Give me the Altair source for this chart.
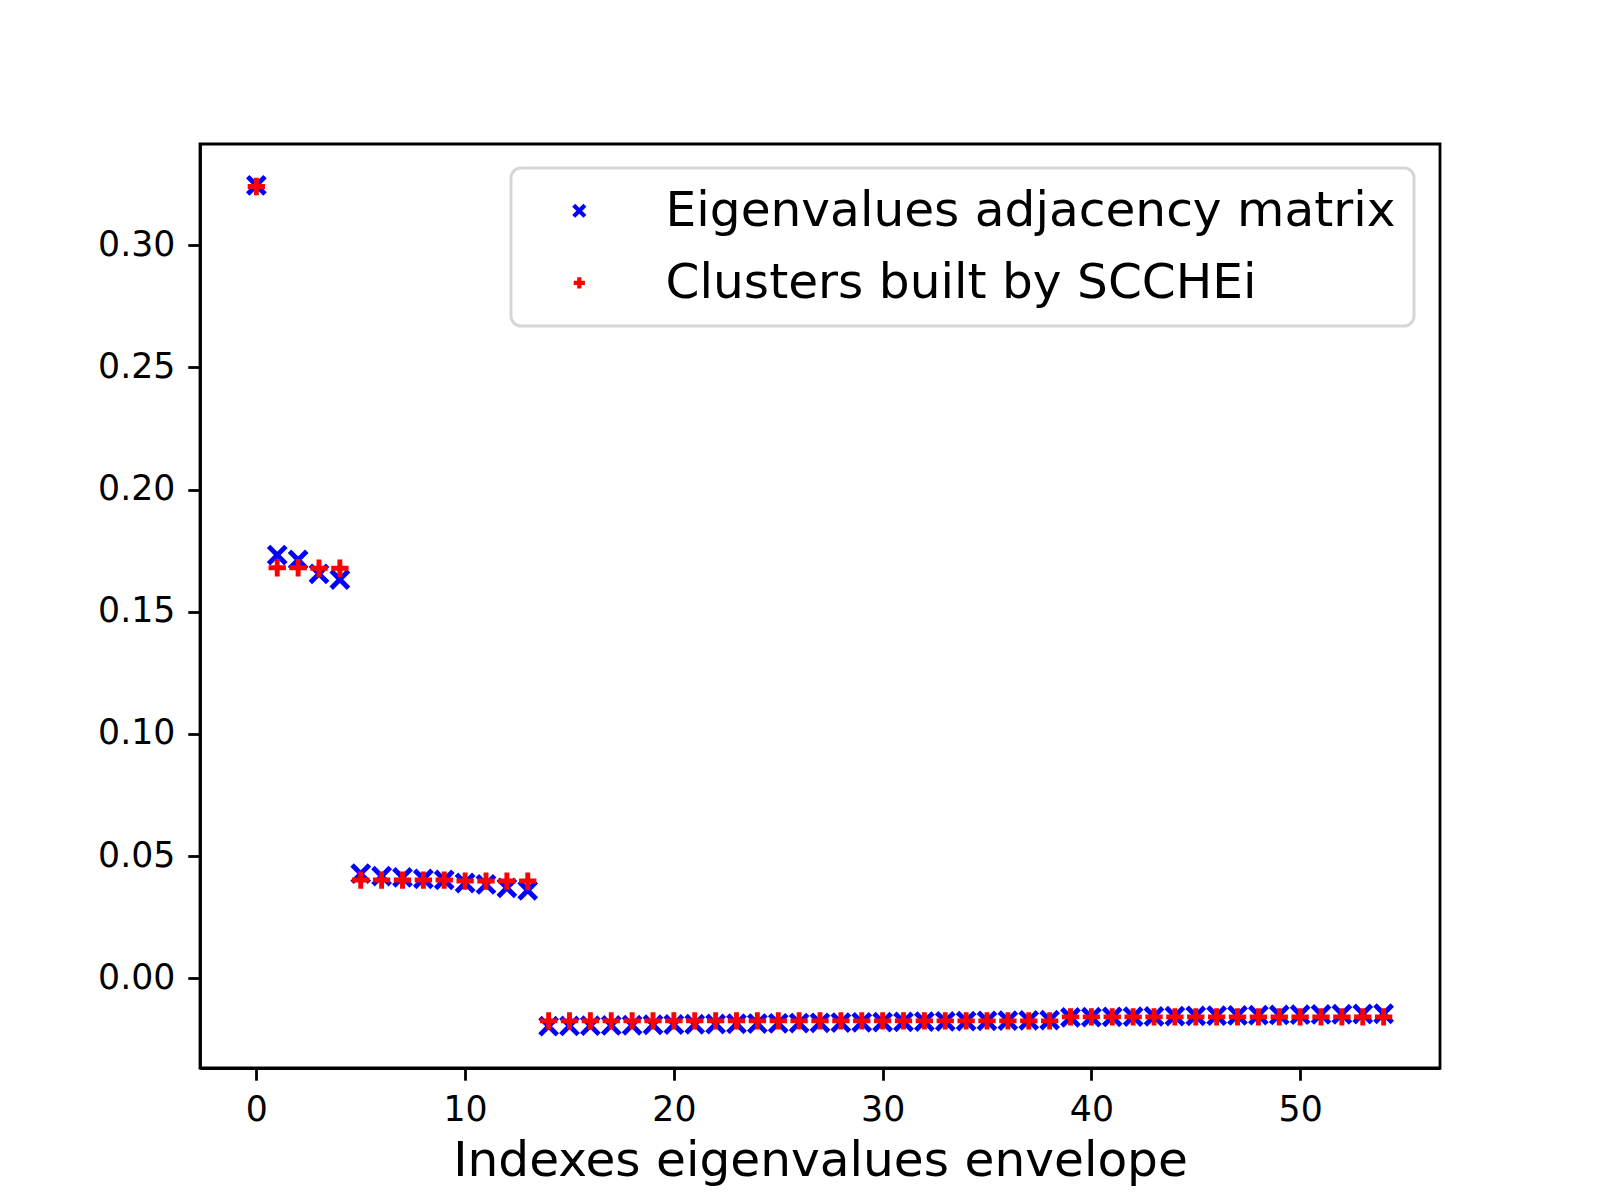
import altair as alt
import pandas as pd

indexes = list(range(55))

eig_adjacency = [
    0.3245,
    0.1732, 0.1712, 0.1655, 0.1632,
    0.0428, 0.0418, 0.0413, 0.0407, 0.0403, 0.0390, 0.0384, 0.0370, 0.0360,
    -0.0196, -0.0195, -0.0194, -0.0193, -0.0192, -0.0190, -0.0189, -0.0188,
    -0.0187, -0.0186, -0.0185, -0.0184, -0.0183, -0.0182, -0.0181, -0.0180,
    -0.0179, -0.0178, -0.0177, -0.0176, -0.0175, -0.0174, -0.0173, -0.0172,
    -0.0171,
    -0.0160, -0.0159, -0.0158, -0.0157, -0.0156, -0.0155, -0.0154, -0.0153,
    -0.0152, -0.0151, -0.0150, -0.0149, -0.0148, -0.0147, -0.0146, -0.0145,
]

clusters_scchei = [
    0.3240,
    0.1680, 0.1680, 0.1678, 0.1678,
    0.0402, 0.0402, 0.0402, 0.0402, 0.0402, 0.0398, 0.0398, 0.0398, 0.0398,
    -0.0174, -0.0174, -0.0174, -0.0174, -0.0174, -0.0174, -0.0174, -0.0174,
    -0.0174, -0.0174, -0.0174, -0.0174, -0.0174, -0.0174, -0.0174, -0.0174,
    -0.0174, -0.0174, -0.0174, -0.0174, -0.0174, -0.0174, -0.0174, -0.0174,
    -0.0174,
    -0.0158, -0.0158, -0.0158, -0.0158, -0.0158, -0.0158, -0.0158, -0.0158,
    -0.0158, -0.0158, -0.0158, -0.0158, -0.0158, -0.0158, -0.0158, -0.0158,
]

series_names = ["Eigenvalues adjacency matrix", "Clusters built by SCCHEi"]
series_colors = ["#0000ff", "#ff0000"]
series_shapes = ["M-1,-1L1,1M-1,1L1,-1", "M-1,0L1,0M0,-1L0,1"]

y_ticks = [0.0, 0.05, 0.10, 0.15, 0.20, 0.25, 0.30]
x_ticks = [0, 10, 20, 30, 40, 50]

rows = []
for name, vals in zip(series_names, [eig_adjacency, clusters_scchei]):
    for i, v in zip(indexes, vals):
        rows.append({"index": i, "value": v, "series": name})
df = pd.DataFrame(rows)
df["order"] = df["series"].map({series_names[0]: 0, series_names[1]: 1})

font = "DejaVu Sans"

scale_color = alt.Scale(domain=series_names, range=series_colors)
scale_shape = alt.Scale(domain=series_names, range=series_shapes)

chart = alt.Chart(df).mark_point(
    filled=False, size=300, strokeWidth=4.9, opacity=1
).encode(
    x=alt.X(
        "index:Q",
        scale=alt.Scale(domain=[-2.7, 56.7], nice=False, zero=False),
        axis=alt.Axis(values=x_ticks, title="Indexes eigenvalues envelope", format="d"),
    ),
    y=alt.Y(
        "value:Q",
        scale=alt.Scale(domain=[-0.0367, 0.3414], nice=False, zero=False),
        axis=alt.Axis(values=y_ticks, title=None, format=".2f"),
    ),
    color=alt.Color(
        "series:N",
        scale=scale_color,
        legend=alt.Legend(
            title=None,
            orient="none",
            legendX=311,
            legendY=24,
            labelFontSize=48.6,
            labelFont=font,
            labelColor="black",
            symbolSize=125,
            symbolStrokeWidth=4.2,
            symbolOffset=25.5,
            labelOffset=62,
            padding=18.5,
            rowPadding=23,
            strokeColor="#d6d6d6",
            fillColor="white",
            cornerRadius=10,
            labelLimit=2000,
        ),
    ),
    shape=alt.Shape("series:N", scale=scale_shape),
    order=alt.Order("order:Q"),
).properties(
    width=1240,
    height=924,
    autosize=alt.AutoSizeParams(type="none"),
    padding={"left": 192, "top": 136, "right": 145, "bottom": 124},
).configure_view(
    stroke="black", strokeWidth=2.8
).configure_axis(
    grid=False,
    domain=True,
    domainColor="black",
    domainWidth=2.8,
    tickColor="black",
    tickWidth=2.8,
    tickSize=12.2,
    labelFont=font,
    labelFontSize=34.7,
    labelColor="black",
    labelPadding=13,
    titleFont=font,
    titleFontSize=48.6,
    titleFontWeight="normal",
    titleColor="black",
    titlePadding=11,
).configure_legend(
    symbolType="stroke",
    strokeWidth=3,
)

chart.save("out.html", embed_options={"renderer": "svg", "actions": False})
